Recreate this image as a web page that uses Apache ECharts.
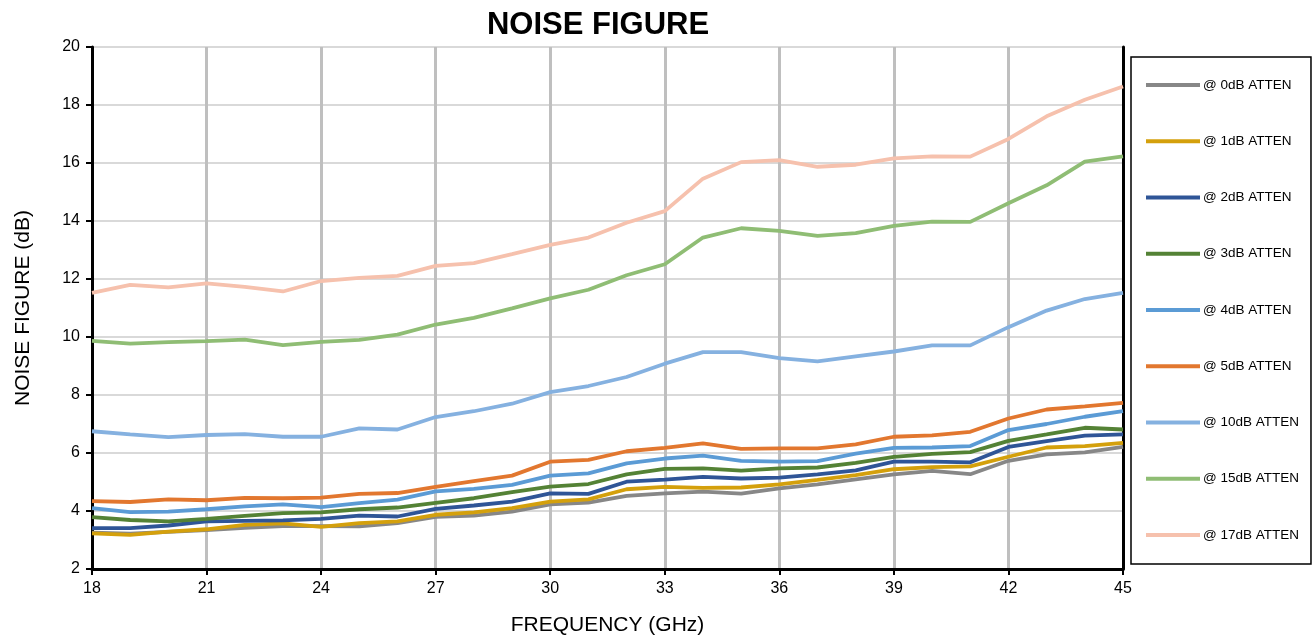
<!DOCTYPE html>
<html>
<head>
<meta charset="utf-8">
<script src="https://cdn.jsdelivr.net/npm/echarts@6/dist/echarts.min.js"></script>
<style>
html,body{margin:0;padding:0;background:#fff;overflow:hidden;}
#chart{width:1316px;height:641px;}
</style>
</head>
<body>
<div id="chart"></div>
<script>
const freqs = [18,19,20,21,22,23,24,25,26,27,28,29,30,31,32,33,34,35,36,37,38,39,40,41,42,43,44,45];
const seriesNames = ['@ 0dB ATTEN','@ 1dB ATTEN','@ 2dB ATTEN','@ 3dB ATTEN','@ 4dB ATTEN','@ 5dB ATTEN','@ 10dB ATTEN','@ 15dB ATTEN','@ 17dB ATTEN'];
const att0  = [3.25,3.22,3.28,3.34,3.42,3.48,3.48,3.47,3.58,3.80,3.84,3.98,4.23,4.29,4.52,4.61,4.67,4.60,4.78,4.92,5.09,5.26,5.38,5.27,5.73,5.95,6.02,6.21];
const att1  = [3.23,3.18,3.29,3.37,3.52,3.57,3.45,3.58,3.64,3.87,3.95,4.10,4.32,4.40,4.75,4.83,4.80,4.81,4.92,5.07,5.24,5.44,5.51,5.54,5.87,6.19,6.24,6.35];
const att2  = [3.41,3.41,3.50,3.64,3.66,3.68,3.73,3.84,3.81,4.07,4.19,4.32,4.61,4.59,5.01,5.08,5.18,5.12,5.15,5.26,5.40,5.70,5.70,5.68,6.21,6.41,6.60,6.64];
const att3  = [3.79,3.69,3.64,3.73,3.83,3.93,3.95,4.06,4.12,4.28,4.44,4.65,4.84,4.93,5.26,5.45,5.47,5.39,5.47,5.50,5.66,5.87,5.97,6.03,6.42,6.64,6.87,6.81];
const att4  = [4.10,3.96,3.98,4.06,4.16,4.23,4.13,4.27,4.39,4.68,4.76,4.90,5.22,5.30,5.64,5.81,5.91,5.73,5.70,5.72,5.98,6.18,6.19,6.24,6.79,7.00,7.25,7.44];
const att5  = [4.34,4.31,4.40,4.37,4.45,4.44,4.46,4.59,4.62,4.83,5.03,5.22,5.70,5.76,6.06,6.18,6.33,6.14,6.16,6.16,6.30,6.56,6.61,6.73,7.19,7.50,7.61,7.73];
const att10 = [6.75,6.64,6.55,6.62,6.65,6.56,6.56,6.85,6.81,7.24,7.44,7.70,8.10,8.31,8.62,9.08,9.48,9.48,9.27,9.16,9.33,9.50,9.71,9.71,10.34,10.91,11.31,11.52];
const att15 = [9.87,9.77,9.82,9.86,9.91,9.72,9.83,9.90,10.08,10.43,10.66,10.99,11.33,11.63,12.13,12.51,13.43,13.75,13.66,13.49,13.58,13.83,13.98,13.97,14.61,15.23,16.05,16.23];
const att17 = [11.52,11.80,11.71,11.85,11.73,11.57,11.93,12.04,12.11,12.45,12.55,12.86,13.18,13.43,13.94,14.34,15.46,16.03,16.10,15.87,15.94,16.16,16.23,16.22,16.83,17.61,18.18,18.64];
const allValues = [att0,att1,att2,att3,att4,att5,att10,att15,att17];
const colors = ['#878787','#d4a00c','#2f5597','#548235','#5b9bd5','#e2772f','#85b1e0','#8fbd74','#f6c1ad'];

const font = 'Liberation Sans, Arial, sans-serif';
const chart = echarts.init(document.getElementById('chart'), null, {renderer:'canvas', width:1316, height:641});
const series = seriesNames.map((n,i)=>({
  name:n, type:'line', symbol:'none', smooth:false,
  data: freqs.map((f,j)=>[f, allValues[i][j]]),
  lineStyle:{color:colors[i], width:3.8},
  itemStyle:{color:colors[i]},
  z: 2+i
}));
chart.setOption({
  animation:false,
  backgroundColor:'#fff',
  title:{text:'NOISE FIGURE', left:593, textAlign:'center', top:5,
    textStyle:{fontFamily:font, fontSize:31, fontWeight:'bold', color:'#000'}},
  grid:{left:92, right:193, top:47, bottom:56, containLabel:false},
  legend:{
    orient:'vertical', left:1131, top:57,
    padding:[21,12,22,15],
    itemWidth:54, itemHeight:14, itemGap:42.25,
    borderColor:'#000', borderWidth:1.5,
    icon:'path://M0,5 L54,5 L54,9 L0,9 Z',
    textStyle:{fontFamily:font, fontSize:13.5, color:'#000', padding:[0,0,0,-2]},
    data: seriesNames
  },
  xAxis:{
    type:'value', min:18, max:45, interval:3,
    name:'FREQUENCY (GHz)', nameLocation:'middle', nameGap:46,
    nameTextStyle:{fontFamily:font, fontSize:21, color:'#000'},
    axisLine:{show:true, lineStyle:{color:'#000', width:3}},
    axisTick:{show:true, length:6, lineStyle:{color:'#000', width:2}},
    axisLabel:{fontFamily:font, fontSize:16, color:'#000', margin:12},
    splitLine:{show:true, lineStyle:{color:'#bfbfbf', width:3}}
  },
  yAxis:[{
    type:'value', min:2, max:20, interval:2,
    name:'NOISE FIGURE (dB)', nameLocation:'middle', nameGap:58,
    nameTextStyle:{fontFamily:font, fontSize:21, color:'#000'},
    axisLine:{show:true, lineStyle:{color:'#000', width:3}},
    axisTick:{show:true, length:6, lineStyle:{color:'#000', width:2}},
    axisLabel:{fontFamily:font, fontSize:16, color:'#000', margin:12},
    splitLine:{show:true, lineStyle:{color:'#d9d9d9', width:2}}
  },{
    type:'value', min:2, max:20, interval:2, position:'right',
    axisLine:{show:true, lineStyle:{color:'#000', width:3}},
    axisTick:{show:false}, axisLabel:{show:false}, splitLine:{show:false}
  }],
  series: series
});
</script>
</body>
</html>
